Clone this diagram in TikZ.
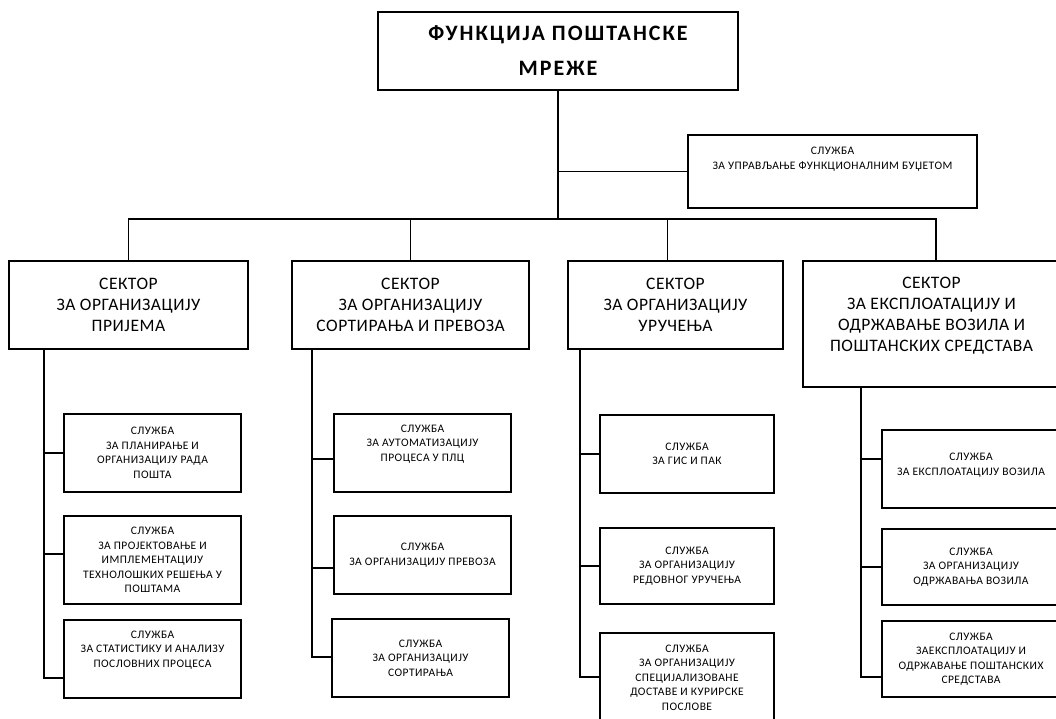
\documentclass[tikz,border=0pt]{standalone}
\usepackage{fontspec}
\setmainfont{Carlito}
\newfontfamily\naslovfont{Carlito}[LetterSpace=9]
\newfontfamily\sektorfont{Carlito}[LetterSpace=3]
\newfontfamily\sluzbafont{Carlito}[LetterSpace=4]

\tikzset{
  okvir/.style={draw, line width=1.2pt, align=center, inner sep=0pt},
  glavna/.style={okvir, font=\naslovfont\bfseries\fontsize{22}{35}\selectfont, minimum width=360, minimum height=78},
  sektor/.style={okvir, font=\sektorfont\fontsize{17.5}{21}\selectfont, minimum height=88},
  sluzba/.style={okvir, font=\sluzbafont\fontsize{11.5}{14.5}\selectfont, minimum height=78},
  veza/.style={line width=1.2pt},
  sina/.style={line width=2pt}
}

\begin{document}
\begin{tikzpicture}[x=1pt,y=-1pt]
\useasboundingbox (0,0) rectangle (1056,718);
%vrh
\node[glavna] (funkcija) at (558,51) {ФУНКЦИЈА ПОШТАНСКЕ\\МРЕЖЕ};
\node[sluzba, minimum width=289, minimum height=73] (budzet) at (832.5,171.5) {СЛУЖБА\\ЗА УПРАВЉАЊЕ ФУНКЦИОНАЛНИМ БУЏЕТОМ\\[11.5pt]};
\coordinate (sabirnica) at (558,219);
\draw[veza] (funkcija.south) -- (sabirnica);
\draw[line width=0.8pt] (funkcija.south |- budzet.west) -- (budzet.west);
%sektori
\node[sektor, minimum width=239] (prijem) at (128.5,305) {СЕКТОР\\ЗА ОРГАНИЗАЦИЈУ\\ПРИЈЕМА};
\node[sektor, minimum width=237] (sortiranje) at (410.5,305) {СЕКТОР\\ЗА ОРГАНИЗАЦИЈУ\\СОРТИРАЊА И ПРЕВОЗА};
\node[sektor, minimum width=215] (urucenje) at (675.5,305) {СЕКТОР\\ЗА ОРГАНИЗАЦИЈУ\\УРУЧЕЊА};
\node[sektor, minimum width=257, minimum height=126] (vozila) at (931.5,324) {СЕКТОР\\ЗА ЕКСПЛОАТАЦИЈУ И\\ОДРЖАВАЊЕ ВОЗИЛА И\\ПОШТАНСКИХ СРЕДСТАВА\\[-2pt]};
\draw[veza] (prijem.north) |- ([xshift=4.5pt]vozila.north |- sabirnica) -- ([xshift=4.5pt]vozila.north);
\draw[veza] (sortiranje.north) -- (sortiranje.north |- sabirnica);
\draw[veza] ([xshift=-8pt]urucenje.north) -- ([xshift=-8pt]urucenje.north |- sabirnica);
%sluzbe prijema
\node[sluzba, minimum width=177] (planiranje) at (152.5,453) {СЛУЖБА\\ЗА ПЛАНИРАЊЕ И\\ОРГАНИЗАЦИЈУ РАДА\\ПОШТА};
\node[sluzba, minimum width=177, minimum height=88] (projektovanje) at (152.5,560) {СЛУЖБА\\ЗА ПРОЈЕКТОВАЊЕ И\\ИМПЛЕМЕНТАЦИЈУ\\ТЕХНОЛОШКИХ РЕШЕЊА У\\ПОШТАМА};
\node[sluzba, minimum width=177] (statistika) at (152.5,659) {СЛУЖБА\\ЗА СТАТИСТИКУ И АНАЛИЗУ\\ПОСЛОВНИХ ПРОЦЕСА\\[5.5pt]};
\coordinate (r1) at (44,678);
\draw[sina] (prijem.south -| r1) -- (r1) -- (r1 -| statistika.west);
\draw[sina] (r1 |- planiranje.west) -- (planiranje.west);
\draw[sina] ([yshift=6pt]projektovanje.west -| r1) -- ([yshift=6pt]projektovanje.west);
%sluzbe sortiranja
\node[sluzba, minimum width=177] (automatizacija) at (422.5,453) {СЛУЖБА\\ЗА АУТОМАТИЗАЦИЈУ\\ПРОЦЕСА У ПЛЦ\\[5.5pt]};
\node[sluzba, minimum width=177] (prevoz) at (422.5,555) {СЛУЖБА\\ЗА ОРГАНИЗАЦИЈУ ПРЕВОЗА};
\node[sluzba, minimum width=177] (sortiranja) at (420.5,658) {СЛУЖБА\\ЗА ОРГАНИЗАЦИЈУ\\СОРТИРАЊА};
\coordinate (r2) at (312,657);
\draw[sina] (sortiranje.south -| r2) -- (r2) -- (r2 -| sortiranja.west);
\draw[sina] ([yshift=-6pt]automatizacija.west -| r2) -- ([yshift=-6pt]automatizacija.west);
\draw[sina] ([yshift=-13pt]prevoz.west -| r2) -- ([yshift=-13pt]prevoz.west);
%sluzbe urucenja
\node[sluzba, minimum width=174] (gis) at (687,454) {СЛУЖБА\\ЗА ГИС И ПАК};
\node[sluzba, minimum width=174, minimum height=76] (redovno) at (687,566) {СЛУЖБА\\ЗА ОРГАНИЗАЦИЈУ\\РЕДОВНОГ УРУЧЕЊА};
\node[sluzba, minimum width=174, minimum height=89] (kurirske) at (687,677.5) {СЛУЖБА\\ЗА ОРГАНИЗАЦИЈУ\\СПЕЦИЈАЛИЗОВАНЕ\\ДОСТАВЕ И КУРИРСКЕ\\ПОСЛОВЕ};
\coordinate (r3) at (580,677);
\draw[sina] (urucenje.south -| r3) -- (r3) -- (r3 -| kurirske.west);
\draw[sina] (r3 |- gis.west) -- (gis.west);
\draw[sina] (r3 |- redovno.west) -- (redovno.west);
%sluzbe vozila
\node[sluzba, minimum width=178] (eksploatacija) at (971,469) {СЛУЖБА\\ЗА ЕКСПЛОАТАЦИЈУ ВОЗИЛА\\[-5.5pt]};
\node[sluzba, minimum width=178, minimum height=76] (odrzavanje) at (971,567) {СЛУЖБА\\ЗА ОРГАНИЗАЦИЈУ\\ОДРЖАВАЊА ВОЗИЛА};
\node[sluzba, minimum width=178, minimum height=76] (sredstva) at (971,659) {СЛУЖБА\\ЗАЕКСПЛОАТАЦИЈУ И\\ОДРЖАВАЊЕ ПОШТАНСКИХ\\СРЕДСТАВА};
\coordinate (r4) at (861,677);
\draw[sina] (vozila.south -| r4) -- (r4) -- (r4 -| sredstva.west);
\draw[sina] ([yshift=10pt]eksploatacija.west -| r4) -- ([yshift=10pt]eksploatacija.west);
\draw[sina] (r4 |- odrzavanje.west) -- (odrzavanje.west);
\end{tikzpicture}
\end{document}
